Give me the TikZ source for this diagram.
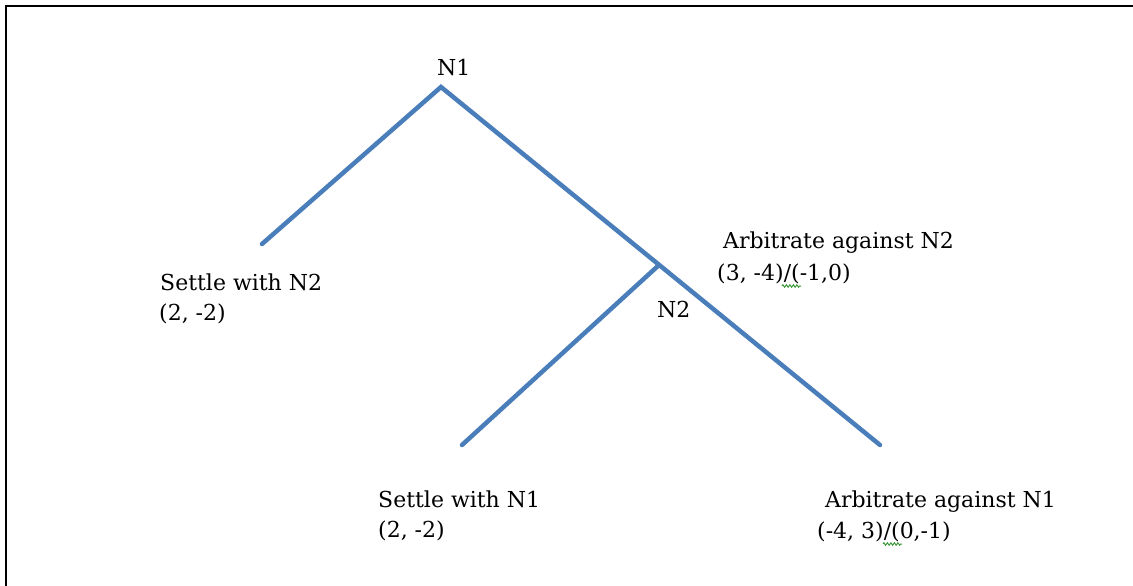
\documentclass[tikz,border=0pt]{standalone}
\usepackage{fontspec}
\setmainfont{DejaVu Serif}
\usetikzlibrary{decorations.pathmorphing}
\definecolor{branch}{HTML}{4A7EBB}
\definecolor{spell}{HTML}{3C9A3C}
\tikzset{
  edge/.style={draw=branch, line width=4.5pt, line cap=round, line join=miter},
  lbl/.style={anchor=base west, inner sep=0pt, font=\fontsize{22}{26}\selectfont},
  squig/.style={draw=spell, line width=1pt, decorate,
                decoration={zigzag, segment length=3.5pt, amplitude=1.2pt}}
}
\begin{document}
\begin{tikzpicture}[x=1pt, y=-1pt]
  \useasboundingbox (0,0) rectangle (1133,586);
  % frame
  \draw[line width=2.4pt] (6,586) -- (6,6) -- (1133,6);

  % tree vertices
  \coordinate (top) at (441,87);
  \coordinate (leftleaf) at (262,244);
  \coordinate (mid) at (659,265);
  \coordinate (rightleaf) at (880,445);
  \coordinate (midleaf) at (462,445);

  % branches
  \draw[edge] (leftleaf) -- (top) -- (rightleaf);
  \draw[edge] (mid) -- (midleaf);

  % decision nodes
  \node[lbl] (n1) at (437,76) {N1};
  \node[lbl] (n2) at (657,317) {N2};

  % actions and payoffs
  \node[lbl] (a1) at (160,290) {Settle with N2};
  \node[lbl] (p1) at (159,320) {(2, -2)};

  \node[lbl] (a2) at (723,248) {Arbitrate against N2};
  \node[lbl] (p2) at (717,280) {(3, -4)/(-1,0)};

  \node[lbl] (a3) at (378,507) {Settle with N1};
  \node[lbl] (p3) at (378,537) {(2, -2)};

  \node[lbl] (a4) at (825,507) {Arbitrate against N1};
  \node[lbl] (p4) at (817,538) {(-4, 3)/(0,-1)};

  % proofing marks
  \draw[squig] (782,286) -- (801,286);
  \draw[squig] (883,544) -- (902,544);
\end{tikzpicture}
\end{document}
